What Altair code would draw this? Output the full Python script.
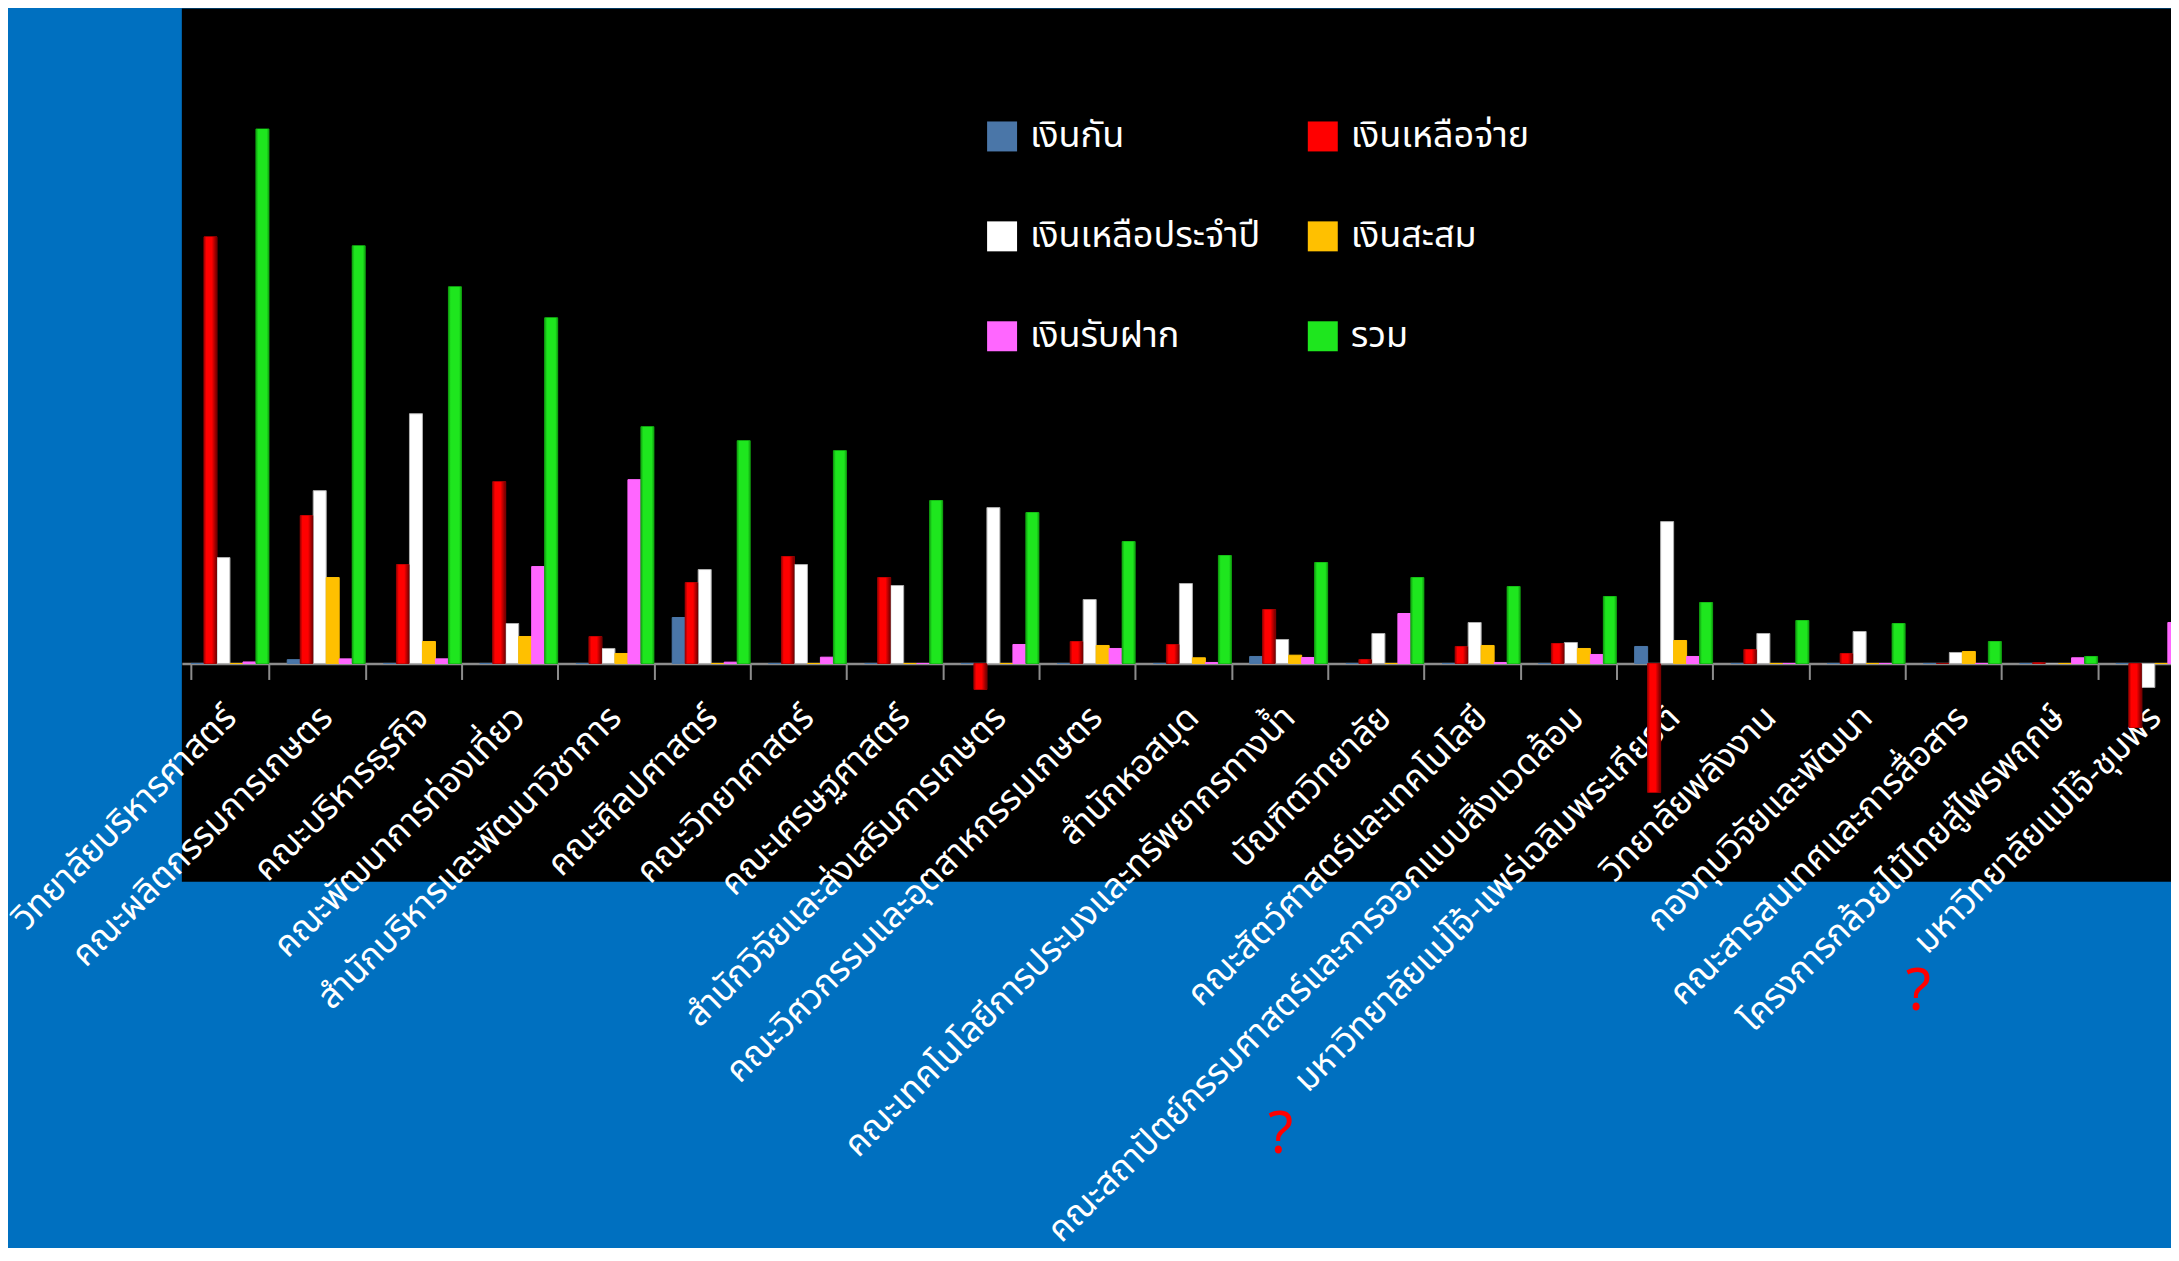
import altair as alt
import pandas as pd

categories = [
    "วิทยาลัยบริหารศาสตร์",
    "คณะผลิตกรรมการเกษตร",
    "คณะบริหารธุรกิจ",
    "คณะพัฒนาการท่องเที่ยว",
    "สำนักบริหารและพัฒนาวิชาการ",
    "คณะศิลปศาสตร์",
    "คณะวิทยาศาสตร์",
    "คณะเศรษฐศาสตร์",
    "สำนักวิจัยและส่งเสริมการเกษตร",
    "คณะวิศวกรรมและอุตสาหกรรมเกษตร",
    "สำนักหอสมุด",
    "คณะเทคโนโลยีการประมงและทรัพยากรทางน้ำ",
    "บัณฑิตวิทยาลัย",
    "คณะสัตว์ศาสตร์และเทคโนโลยี",
    "คณะสถาปัตย์กรรมศาสตร์และการออกแบบสิ่งแวดล้อม",
    "มหาวิทยาลัยแม่โจ้-แพร่เฉลิมพระเกียรติ",
    "วิทยาลัยพลังงาน",
    "กองทุนวิจัยและพัฒนา",
    "คณะสารสนเทศและการสื่อสาร",
    "โครงการกล้วยไม้ไทยสู่ไพรพฤกษ์",
    "มหาวิทยาลัยแม่โจ้-ชุมพร",
]

series = ["เงินกัน", "เงินเหลือจ่าย", "เงินเหลือประจำปี", "เงินสะสม", "เงินรับฝาก", "รวม"]

ngern_kan = [0, 3.8, 0, 0, 0, 46, 0, 0, 0, 0, 0, 7, 0, 0, 0, 17, 0, 0, 0, 0, 0]
ngern_luea_jai = [427, 148, 99, 182, 27, 81, 107, 86, -26, 22, 19, 54, 4, 17, 20, -129, 14, 10, 0, 0.7, -64]
ngern_luea_pi = [106, 173, 250, 40, 15, 94, 99, 78, 156, 64, 80, 24, 30, 41, 21, 142, 30, 32, 11, 0, -24]
ngern_sasom = [0, 86, 22, 27, 10, 0, 0, 0, 0, 18, 5.7, 8.3, 0, 18, 15, 23, 0, 0, 12, 0, 0]
ngern_rap_fak = [1.5, 4.6, 4.6, 97, 184, 1.3, 6.3, 0, 19, 15, 1, 6, 50, 1, 9, 7, 0, 0, 0, 5.7, 41]
ruam = [535, 418, 377, 346, 237, 223, 213, 163, 151, 122, 108, 101, 86, 77, 67, 61, 43, 40, 22, 7, -47]

colors = ["#4A76A8", "#FF0000", "#FFFFFF", "#FFC000", "#FF66FF", "#1EE61E"]
strokes = ["#4A76A8", "#9A0000", "#B0B0B0", "#FFC000", "#FF66FF", "#0E9E0E"]

q_categories = ["คณะเทคโนโลยีการประมงและทรัพยากรทางน้ำ", "คณะสารสนเทศและการสื่อสาร"]
q_values = [-473, -330]
q_dx = [-8, -44]

rows = []
for i, c in enumerate(categories):
    for s, vals in zip(series, [ngern_kan, ngern_luea_jai, ngern_luea_pi, ngern_sasom, ngern_rap_fak, ruam]):
        rows.append({"หน่วยงาน": c, "ประเภท": s, "ค่า": vals[i]})
df = pd.DataFrame(rows)

FONT = "Noto Sans Thai, Noto Sans, sans-serif"
PLOT_W = 1991
PLOT_H = 874

xscale = alt.Scale(range=[0, 2023], paddingInner=0.19, paddingOuter=0.095)
yscale = alt.Scale(domain=[-218.5, 655.5], nice=False, zero=False)
xoff = alt.XOffset("ประเภท:N", sort=series, scale=alt.Scale(domain=series, paddingInner=0, paddingOuter=0))

bars = alt.Chart(df).mark_bar(strokeWidth=1).encode(
    x=alt.X(
        "หน่วยงาน:N",
        sort=categories,
        scale=xscale,
        axis=alt.Axis(
            title=None,
            offset=-218.5,
            domainColor="#8C8C8C",
            domainWidth=2.5,
            tickColor="#8C8C8C",
            tickWidth=2,
            tickSize=16,
            tickBand="extent",
            labelAngle=315,
            labelAlign="right",
            labelBaseline="middle",
            labelColor="white",
            labelFont=FONT,
            labelFontSize=35,
            labelPadding=32,
            labelLimit=0,
            labelOverlap=False,
        ),
    ),
    xOffset=xoff,
    y=alt.Y("ค่า:Q", scale=yscale, axis=None),
    fill=alt.Fill(
        "ประเภท:N",
        sort=series,
        scale=alt.Scale(domain=series, range=colors),
        legend=alt.Legend(
            title=None,
            orient="none",
            direction="horizontal",
            legendX=803,
            legendY=110,
            columns=2,
            symbolType="square",
            symbolSize=900,
            symbolStrokeWidth=0,
            labelColor="white",
            labelFont=FONT,
            labelFontSize=36,
            labelOffset=10,
            labelLimit=0,
            rowPadding=64,
            columnPadding=44,
            padding=0,
        ),
    ),
    stroke=alt.Stroke("ประเภท:N", sort=series, scale=alt.Scale(domain=series, range=strokes), legend=None),
)

red_grad = {
    "gradient": "linear", "x1": 0, "y1": 0, "x2": 1, "y2": 0,
    "stops": [
        {"offset": 0, "color": "#9A0000"},
        {"offset": 0.18, "color": "#FF0000"},
        {"offset": 0.6, "color": "#FF0000"},
        {"offset": 1, "color": "#6A0000"},
    ],
}
green_grad = {
    "gradient": "linear", "x1": 0, "y1": 0, "x2": 1, "y2": 0,
    "stops": [
        {"offset": 0, "color": "#10A010"},
        {"offset": 0.18, "color": "#1EE61E"},
        {"offset": 0.82, "color": "#1EE61E"},
        {"offset": 1, "color": "#10A010"},
    ],
}

shade_layers = []
for name, grad in [("เงินเหลือจ่าย", red_grad), ("รวม", green_grad)]:
    shade_layers.append(
        alt.Chart(df).transform_filter(alt.datum["ประเภท"] == name).mark_bar(fill=grad, strokeWidth=0).encode(
            x=alt.X("หน่วยงาน:N", sort=categories, scale=xscale),
            xOffset=xoff,
            y=alt.Y("ค่า:Q", scale=yscale),
        )
    )

q_layers = []
for c, v, d in zip(q_categories, q_values, q_dx):
    qd = pd.DataFrame({"หน่วยงาน": [c], "ค่า": [v]})
    q_layers.append(
        alt.Chart(qd).mark_text(color="#FF0000", fontSize=58, font=FONT, baseline="middle", dx=d, text="?").encode(
            x=alt.X("หน่วยงาน:N", sort=categories, scale=xscale),
            y=alt.Y("ค่า:Q", scale=yscale),
        )
    )

chart = alt.layer(bars, *shade_layers, *q_layers).properties(
    width=PLOT_W,
    height=PLOT_H,
    background="#0070C0",
    padding={"left": 174, "top": 0, "right": 0, "bottom": 366},
    autosize=alt.AutoSizeParams(type="none"),
).configure_view(fill="black", stroke=None)

chart.save("out.html", embed_options={"renderer": "svg", "actions": False})
